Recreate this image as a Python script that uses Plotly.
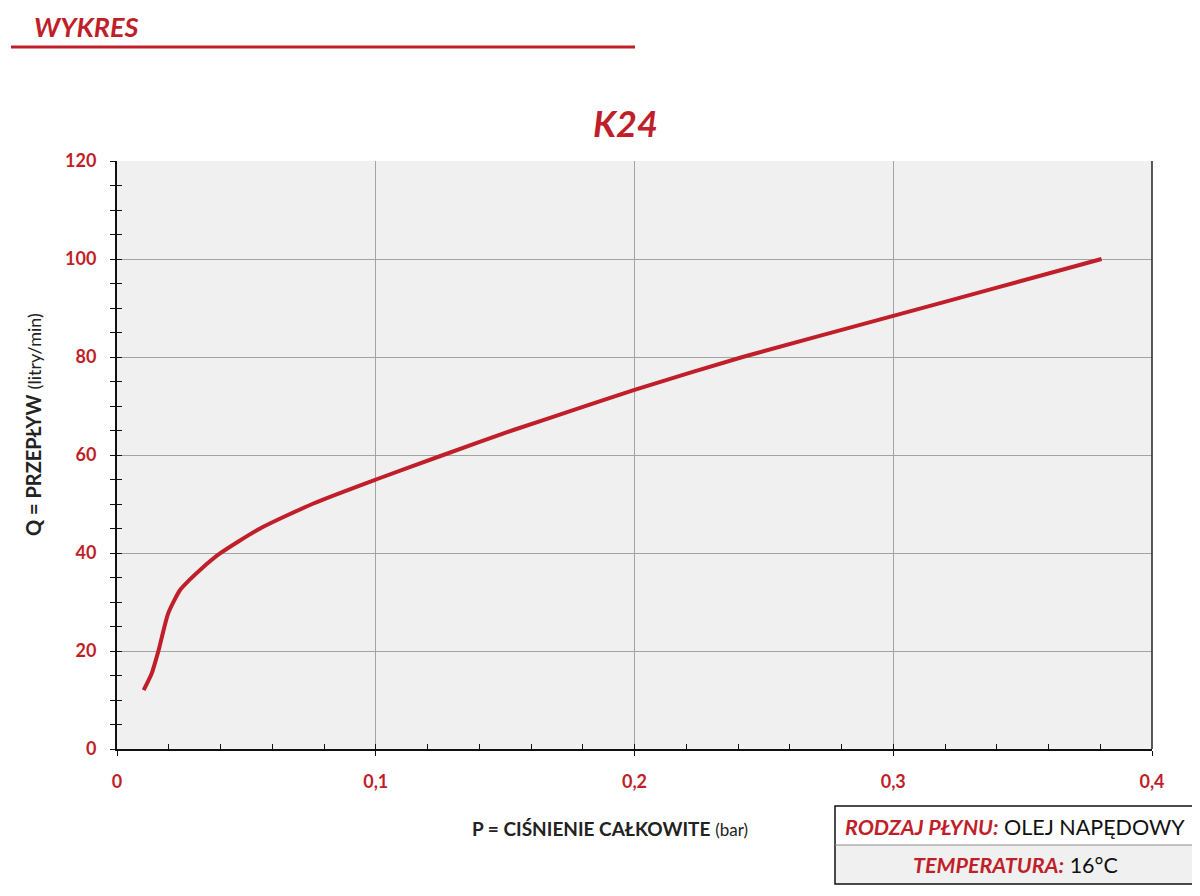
import plotly.graph_objects as go

# Data
pressure_bar = [0.0103, 0.0134, 0.016, 0.0198, 0.0243, 0.0282, 0.032, 0.0398, 0.0553,
                0.0759, 0.1001, 0.1261, 0.1532, 0.1789, 0.2, 0.2418, 0.3, 0.339, 0.3805]
flow_lpm = [12.0, 15.4, 20.0, 27.7, 32.4, 34.6, 36.5, 39.9, 45.0,
            50.1, 55.0, 60.0, 65.1, 69.6, 73.3, 80.0, 88.4, 94.0, 100.0]

x_ticks = [0, 0.1, 0.2, 0.3, 0.4]
x_tick_labels = ["0", "0,1", "0,2", "0,3", "0,4"]
y_ticks = [0, 20, 40, 60, 80, 100, 120]
y_tick_labels = ["0", "20", "40", "60", "80", "100", "120"]

RED = "#c01f2a"
DARK = "#222222"
FONT = "Lato"

fig = go.Figure()
fig.add_trace(go.Scatter(x=pressure_bar, y=flow_lpm, mode="lines",
                         line=dict(color=RED, width=4, shape="spline", smoothing=0.6),
                         hoverinfo="skip", showlegend=False))
# invisible trace to anchor overlay axes (for inside ticks)
fig.add_trace(go.Scatter(x=[0], y=[0], xaxis="x2", yaxis="y2", mode="markers",
                         marker=dict(opacity=0), hoverinfo="skip", showlegend=False))

tickfont = dict(family=FONT, size=18, color=RED, weight="bold")

# page body has an 8px margin: compensate so the plot lands at the reference pixels
OFF = 8
W, H = 1200, 896
X0, X1, Y0, Y1 = 117, 1152, 749, 161

fig.update_layout(
    width=W, height=H,
    margin=dict(l=X0 - OFF, r=W - (X1 - OFF), t=Y1 - OFF, b=H - (Y0 - OFF), pad=0),
    paper_bgcolor="white", plot_bgcolor="#f0f0f0",
    showlegend=False,
    xaxis=dict(range=[0, 0.4], tickvals=x_ticks, ticktext=x_tick_labels,
               showgrid=True, gridcolor="#a3a3a3", gridwidth=1, zeroline=False,
               showline=True, linecolor="#111", linewidth=2,
               ticks="outside", ticklen=5, tickcolor="#111", tickwidth=1,
               tickfont=tickfont, ticklabelstandoff=10),
    yaxis=dict(range=[0, 120], tickvals=y_ticks, ticktext=y_tick_labels,
               showgrid=True, gridcolor="#a3a3a3", gridwidth=1, zeroline=False,
               showline=True, linecolor="#111", linewidth=2,
               ticks="outside", ticklen=5, tickcolor="#111", tickwidth=1,
               minor=dict(dtick=5, ticks="outside", ticklen=5, tickcolor="#111", showgrid=False),
               tickfont=tickfont, ticklabelstandoff=10),
    xaxis2=dict(range=[0, 0.4], overlaying="x", anchor="y", side="bottom",
                tickvals=x_ticks, showticklabels=False, showgrid=False, zeroline=False,
                ticks="inside", ticklen=5, tickcolor="#111", tickwidth=1,
                minor=dict(dtick=0.02, ticks="inside", ticklen=5, tickcolor="#111", showgrid=False)),
    yaxis2=dict(range=[0, 120], overlaying="y", anchor="x", side="left",
                tickvals=y_ticks, showticklabels=False, showgrid=False, zeroline=False,
                ticks="inside", ticklen=5, tickcolor="#111", tickwidth=1,
                minor=dict(dtick=5, ticks="inside", ticklen=5, tickcolor="#111", showgrid=False)),
)


def px(x):
    return (x - X0) / (X1 - X0)


def py(y):
    return (Y0 - y) / (Y0 - Y1)


shapes = [
    # header underline
    dict(type="line", xref="paper", yref="paper", x0=px(11), x1=px(635), y0=py(47), y1=py(47),
         line=dict(color=RED, width=3)),
    # right border of plot
    dict(type="line", xref="paper", yref="paper", x0=1, x1=1, y0=0, y1=1,
         line=dict(color="#222", width=1.5)),
    # info table bottom row fill
    dict(type="rect", xref="paper", yref="paper", x0=px(835), x1=px(1196), y0=py(884), y1=py(845),
         fillcolor="#f0f0f0", line=dict(width=0), layer="below"),
    # info table border
    dict(type="rect", xref="paper", yref="paper", x0=px(835), x1=px(1196), y0=py(884), y1=py(806),
         line=dict(color="#111", width=1.5)),
    dict(type="line", xref="paper", yref="paper", x0=px(835), x1=px(1196), y0=py(845), y1=py(845),
         line=dict(color="#888", width=1)),
]
fig.update_layout(shapes=shapes)

ann = [
    dict(text="<b><i>WYKRES</i></b>", x=px(32), y=py(26), xanchor="left", yanchor="middle",
         font=dict(family=FONT, size=27, color=RED)),
    dict(text="<b><i>K24</i></b>", x=px(625), y=py(123), xanchor="center", yanchor="middle",
         font=dict(family=FONT, size=36, color=RED)),
    dict(text="<b>Q = PRZEPŁYW</b> <span style='font-size:18px'>(litry/min)</span>",
         x=px(33), y=py(425), xanchor="center", yanchor="middle", textangle=-90,
         font=dict(family=FONT, size=20, color=DARK)),
    dict(text="<b>P = CIŚNIENIE CAŁKOWITE</b> <span style='font-size:17px'>(bar)</span>",
         x=px(610), y=py(828), xanchor="center", yanchor="middle",
         font=dict(family=FONT, size=19, color=DARK)),
    dict(text="<b><i><span style='color:%s'>RODZAJ PŁYNU:</span></i></b> OLEJ NAPĘDOWY" % RED,
         x=px(1015), y=py(827), xanchor="center", yanchor="middle",
         font=dict(family=FONT, size=21.5, color="#111")),
    dict(text="<b><i><span style='color:%s'>TEMPERATURA:</span></i></b> 16°C" % RED,
         x=px(1015), y=py(865), xanchor="center", yanchor="middle",
         font=dict(family=FONT, size=21.5, color="#111")),
]
for a in ann:
    a.update(xref="paper", yref="paper", showarrow=False)
fig.update_layout(annotations=ann)

fig.write_html("out.html")
